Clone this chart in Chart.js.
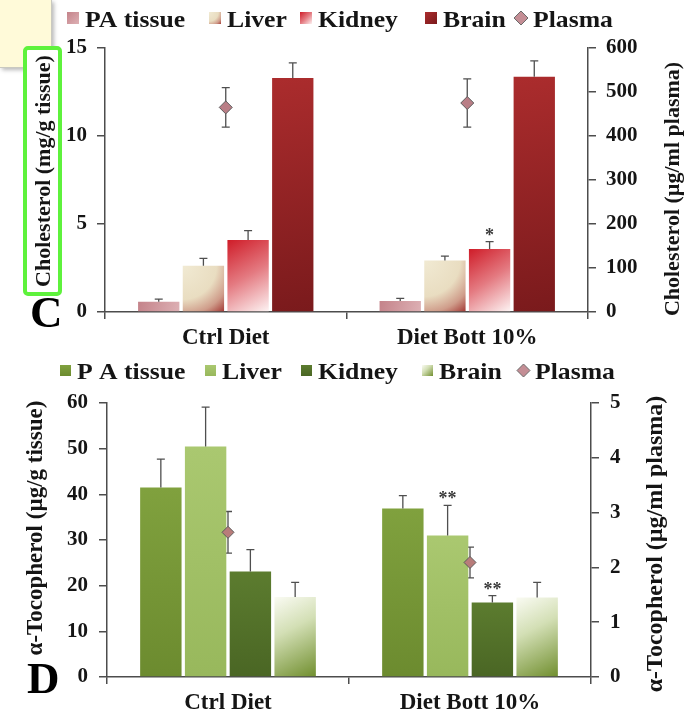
<!DOCTYPE html>
<html>
<head>
<meta charset="utf-8">
<script src="https://cdn.jsdelivr.net/npm/chart.js@4.4.1/dist/chart.umd.min.js"></script>
<style>
  html, body { margin: 0; padding: 0; background: #fff; }
  #page { position: relative; width: 692px; height: 715px; overflow: hidden; background: #fff; }
  canvas { position: absolute; left: 0; z-index: 3; }
  #chartC { top: 0; }
  #chartD { top: 357px; }
  #note {
    position: absolute; left: 0; top: 0; width: 51px; height: 67px; z-index: 1;
    background: #fffad9; border-right: 1px solid #c9c9c0; border-bottom: 1px solid #c9c9c0;
    box-shadow: 2px 2px 4px rgba(0, 0, 0, 0.28);
  }
  #mark {
    position: absolute; left: 23px; top: 46px; width: 31px; height: 242px; z-index: 2;
    background: #fff; border: 4px solid #5ef23c; border-radius: 5px;
  }
</style>
</head>
<body>
<div id="page">
  <div id="note"></div>
  <div id="mark"></div>
  <canvas id="chartC" width="692" height="357"></canvas>
  <canvas id="chartD" width="692" height="358"></canvas>
</div>
<script>
// ---------------- data ----------------
const categories = ['Ctrl Diet', 'Diet Bott 10%'];

// Panel C: cholesterol (tissues in mg/g tissue, plasma in µg/ml plasma)
const cholSeries = ['PA tissue', 'Liver', 'Kidney', 'Brain', 'Plasma'];
const cholPA = [0.58, 0.62];
const cholPAErr = [0.15, 0.15];
const cholLiver = [2.63, 2.92];
const cholLiverErr = [0.42, 0.26];
const cholKidney = [4.09, 3.58];
const cholKidneyErr = [0.53, 0.42];
const cholKidneySig = ['', '*'];
const cholBrain = [13.3, 13.37];
const cholBrainErr = [0.86, 0.9];
const cholPlasma = [465, 475];
const cholPlasmaErr = [45, 55];
const cholTissueTicks = [0, 5, 10, 15];
const cholPlasmaTicks = [0, 100, 200, 300, 400, 500, 600];

// Panel D: α-tocopherol (tissues in µg/g tissue, plasma in µg/ml plasma)
const tocoSeries = ['P A tissue', 'Liver', 'Kidney', 'Brain', 'Plasma'];
const tocoPA = [41.5, 36.9];
const tocoPAErr = [6.2, 2.8];
const tocoLiver = [50.5, 31.0];
const tocoLiverErr = [8.6, 6.6];
const tocoLiverSig = ['', '**'];
const tocoKidney = [23.1, 16.3];
const tocoKidneyErr = [4.8, 1.5];
const tocoKidneySig = ['', '**'];
const tocoBrain = [17.5, 17.4];
const tocoBrainErr = [3.2, 3.3];
const tocoPlasma = [2.64, 2.09];
const tocoPlasmaErr = [0.38, 0.28];
const tocoTissueTicks = [0, 10, 20, 30, 40, 50, 60];
const tocoPlasmaTicks = [0, 1, 2, 3, 4, 5];

// ---------------- styling helpers ----------------
const SERIF = "'Liberation Serif', 'Times New Roman', serif";
const INK = '#151515';
const AXIS = '#4d4d4d';
Chart.defaults.font.family = SERIF;
Chart.defaults.font.weight = 'bold';
Chart.defaults.color = INK;

function linear(ctx, x0, y0, x1, y1, stops) {
  const g = ctx.createLinearGradient(x0, y0, x1, y1);
  stops.forEach(([o, c]) => g.addColorStop(o, c));
  return g;
}
function radial(ctx, cx, cy, r, stops) {
  const g = ctx.createRadialGradient(cx, cy, 0, cx, cy, r);
  stops.forEach(([o, c]) => g.addColorStop(o, c));
  return g;
}

// Fill painters: each receives a box (l, t, r, b) and returns a fill style
const paintC = {
  pa: (ctx, l, t, r, b) => linear(ctx, l, t, r, b, [[0, '#c4838a'], [1, '#ddb0b4']]),
  liver: (ctx, l, t, r, b) => radial(ctx, l, t, Math.hypot(r - l, b - t),
    [[0, '#f1ead3'], [0.55, '#e9ddc1'], [0.8, '#cf9c8a'], [1, '#a43a36']]),
  kidney: (ctx, l, t, r, b) => linear(ctx, l, t, r, b,
    [[0, '#cf1c28'], [0.5, '#e47a81'], [1, '#fdf3f3']]),
  brain: (ctx, l, t, r, b) => linear(ctx, l, t, r, b, [[0, '#ab2c2d'], [1, '#7a1a1c']])
};
const paintD = {
  pa: (ctx, l, t, r, b) => linear(ctx, l, t, l, b, [[0, '#80a13e'], [1, '#6c8b2f']]),
  liver: (ctx, l, t, r, b) => linear(ctx, l, t, l, b, [[0, '#aac870'], [1, '#98b85c']]),
  kidney: (ctx, l, t, r, b) => linear(ctx, l, t, l, b, [[0, '#5c7c2f'], [1, '#4a6624']]),
  brain: (ctx, l, t, r, b) => linear(ctx, l, t, r, b,
    [[0, '#fafbf3'], [0.4, '#d3dfb5'], [1, '#718f2f']])
};

function tissueBar(label, data, errors, paint, marks) {
  return {
    type: 'bar', label, data, errors, paint, marks,
    yAxisID: 'y', order: 1,
    backgroundColor: () => '#999999',
    borderWidth: 0,
    categoryPercentage: 0.74, barPercentage: 0.925
  };
}
function plasmaPoints(label, data, errors, fill, radius) {
  return {
    type: 'line', label, data, errors,
    yAxisID: 'y1', order: 0, showLine: false,
    pointStyle: 'rectRot', pointRadius: radius,
    pointBackgroundColor: fill, pointBorderColor: '#5c5c5c', pointBorderWidth: 1
  };
}

// Gives each bar its own gradient, laid out on the bar's final geometry
const barShading = {
  id: 'barShading',
  beforeDatasetsDraw(chart) {
    const ctx = chart.ctx;
    chart.data.datasets.forEach((ds, i) => {
      if (!ds.paint) return;
      chart.getDatasetMeta(i).data.forEach(bar => {
        const { x, y, base, width } = bar.getProps(['x', 'y', 'base', 'width'], true);
        bar.options.backgroundColor = ds.paint(ctx, x - width / 2, y, x + width / 2, base);
      });
    });
  }
};

// Error bars: one-sided caps above bars, two-sided whiskers behind plasma markers
function drawErrors(chart, kind) {
  const ctx = chart.ctx;
  chart.data.datasets.forEach((ds, i) => {
    if (!ds.errors || ds.type !== kind) return;
    const scale = chart.scales[ds.yAxisID];
    ctx.save();
    ctx.strokeStyle = '#4f4f4f';
    ctx.lineWidth = 1.3;
    chart.getDatasetMeta(i).data.forEach((el, j) => {
      const v = ds.data[j], e = ds.errors[j];
      const x = el.x;
      const top = scale.getPixelForValue(v + e);
      const bottom = scale.getPixelForValue(kind === 'bar' ? v : v - e);
      ctx.beginPath();
      ctx.moveTo(x, bottom); ctx.lineTo(x, top);
      ctx.moveTo(x - 4, top); ctx.lineTo(x + 4, top);
      if (kind === 'line') { ctx.moveTo(x - 4, bottom); ctx.lineTo(x + 4, bottom); }
      ctx.stroke();
      if (ds.marks && ds.marks[j]) {
        ctx.fillStyle = '#3a3a3a';
        ctx.font = 'bold 18px ' + SERIF;
        ctx.textAlign = 'center';
        ctx.textBaseline = 'alphabetic';
        ctx.fillText(ds.marks[j], x, top - 1);
      }
    });
    ctx.restore();
  });
}
const errorBars = {
  id: 'errorBars',
  beforeDatasetsDraw(chart) { drawErrors(chart, 'line'); },
  afterDatasetsDraw(chart) { drawErrors(chart, 'bar'); }
};

// Legend row, rotated axis titles and the panel letter
function makeDecor(cfg) {
  return {
    id: 'panelDecor',
    afterDraw(chart) {
      const ctx = chart.ctx;
      const lg = cfg.legend;
      ctx.save();
      ctx.textBaseline = 'alphabetic';
      ctx.textAlign = 'left';
      lg.items.forEach(item => {
        const s = lg.box;
        const b = lg.baseline - 3, t = b - s, l = item.x - s - 6;
        if (item.diamond) {
          const cx = l + s / 2, cy = t + s / 2, h = s / 2 + 1;
          ctx.beginPath();
          ctx.moveTo(cx, cy - h); ctx.lineTo(cx + h, cy); ctx.lineTo(cx, cy + h); ctx.lineTo(cx - h, cy);
          ctx.closePath();
          ctx.fillStyle = item.fill; ctx.fill();
          ctx.strokeStyle = '#6a6a6a'; ctx.lineWidth = 1; ctx.stroke();
        } else {
          ctx.fillStyle = item.paint(ctx, l, t, l + s, b);
          ctx.fillRect(l, t, s, s);
        }
        // legend lettering is set slightly wide
        ctx.save();
        ctx.translate(item.x, lg.baseline);
        ctx.scale(lg.stretch, 1);
        ctx.font = `bold ${lg.size}px ${SERIF}`;
        ctx.fillStyle = INK;
        ctx.fillText(item.label, 0, 0);
        ctx.restore();
      });
      // axis titles, read bottom-to-top
      cfg.titles.forEach(tt => {
        ctx.save();
        ctx.translate(tt.x, tt.y);
        ctx.rotate(-Math.PI / 2);
        ctx.font = `bold ${tt.size}px ${SERIF}`;
        ctx.textAlign = 'center';
        ctx.textBaseline = 'middle';
        ctx.fillStyle = INK;
        ctx.fillText(tt.text, 0, 0);
        ctx.restore();
      });
      // panel letter
      ctx.font = `bold ${cfg.letter.size}px ${SERIF}`;
      ctx.textAlign = 'left';
      ctx.textBaseline = 'alphabetic';
      ctx.fillStyle = '#000';
      ctx.fillText(cfg.letter.text, cfg.letter.x, cfg.letter.y);
      ctx.restore();
    }
  };
}

function scalesFor(cfg) {
  const tickFont = { size: 21, weight: 'bold' };
  return {
    x: {
      type: 'category', offset: true,
      grid: { drawOnChartArea: false, drawTicks: true, tickLength: 7, color: AXIS, lineWidth: 1.5, offset: true },
      border: { color: AXIS, width: 1.5 },
      ticks: { font: { size: 23, weight: 'bold' }, color: INK, padding: 5, maxRotation: 0, autoSkip: false },
      afterFit: s => { s.height = cfg.xHeight; }
    },
    y: {
      position: 'left',
      min: cfg.leftTicks[0], max: cfg.leftTicks[cfg.leftTicks.length - 1],
      afterBuildTicks: s => { s.ticks = cfg.leftTicks.map(v => ({ value: v })); },
      afterFit: s => { s.width = cfg.leftWidth; },
      grid: { drawOnChartArea: false, tickLength: 8, color: AXIS, lineWidth: 1.5 },
      border: { color: AXIS, width: 1.5 },
      ticks: { font: tickFont, color: INK, padding: cfg.tickPad }
    },
    y1: {
      position: 'right',
      min: cfg.rightTicks[0], max: cfg.rightTicks[cfg.rightTicks.length - 1],
      afterBuildTicks: s => { s.ticks = cfg.rightTicks.map(v => ({ value: v })); },
      afterFit: s => { s.width = cfg.rightWidth; },
      grid: { drawOnChartArea: false, tickLength: 8, color: AXIS, lineWidth: 1.5 },
      border: { color: AXIS, width: 1.5 },
      ticks: { font: tickFont, color: INK, padding: cfg.tickPad }
    }
  };
}

function baseOptions(cfg) {
  return {
    responsive: false,
    animation: false,
    events: [],
    layout: { padding: { top: cfg.top, left: 0, right: 0, bottom: 0 } },
    plugins: { legend: { display: false }, tooltip: { enabled: false } },
    scales: scalesFor(cfg)
  };
}

// ---------------- panel C ----------------
new Chart(document.getElementById('chartC'), {
  type: 'bar',
  data: {
    labels: categories,
    datasets: [
      tissueBar(cholSeries[0], cholPA, cholPAErr, paintC.pa),
      tissueBar(cholSeries[1], cholLiver, cholLiverErr, paintC.liver),
      tissueBar(cholSeries[2], cholKidney, cholKidneyErr, paintC.kidney, cholKidneySig),
      tissueBar(cholSeries[3], cholBrain, cholBrainErr, paintC.brain),
      plasmaPoints(cholSeries[4], cholPlasma, cholPlasmaErr, '#b97e86', 6.5)
    ]
  },
  options: baseOptions({
    top: 48, xHeight: 45, leftWidth: 105, rightWidth: 104, tickPad: 10,
    leftTicks: cholTissueTicks, rightTicks: cholPlasmaTicks
  }),
  plugins: [barShading, errorBars, makeDecor({
    legend: {
      size: 24, stretch: 1.07, box: 12, baseline: 27,
      items: [
        { label: cholSeries[0], x: 85, paint: paintC.pa },
        { label: cholSeries[1], x: 227, paint: paintC.liver },
        { label: cholSeries[2], x: 318, paint: paintC.kidney },
        { label: cholSeries[3], x: 443, paint: paintC.brain },
        { label: cholSeries[4], x: 533, diamond: true, fill: '#c48e95' }
      ]
    },
    titles: [
      { text: 'Cholesterol (mg/g tissue)', x: 44, y: 171, size: 22 },
      { text: 'Cholesterol (µg/ml plasma)', x: 673, y: 189, size: 22 }
    ],
    letter: { text: 'C', x: 30, y: 327, size: 45 }
  })]
});

// ---------------- panel D ----------------
new Chart(document.getElementById('chartD'), {
  type: 'bar',
  data: {
    labels: categories,
    datasets: [
      tissueBar(tocoSeries[0], tocoPA, tocoPAErr, paintD.pa),
      tissueBar(tocoSeries[1], tocoLiver, tocoLiverErr, paintD.liver, tocoLiverSig),
      tissueBar(tocoSeries[2], tocoKidney, tocoKidneyErr, paintD.kidney, tocoKidneySig),
      tissueBar(tocoSeries[3], tocoBrain, tocoBrainErr, paintD.brain),
      plasmaPoints(tocoSeries[4], tocoPlasma, tocoPlasmaErr, '#b87c7a', 6)
    ]
  },
  options: baseOptions({
    top: 46, xHeight: 38, leftWidth: 107, rightWidth: 101, tickPad: 11,
    leftTicks: tocoTissueTicks, rightTicks: tocoPlasmaTicks
  }),
  plugins: [barShading, errorBars, makeDecor({
    legend: {
      size: 24, stretch: 1.07, box: 11, baseline: 22,
      items: [
        { label: tocoSeries[0], x: 77, paint: paintD.pa },
        { label: tocoSeries[1], x: 222, paint: paintD.liver },
        { label: tocoSeries[2], x: 318, paint: paintD.kidney },
        { label: tocoSeries[3], x: 439, paint: paintD.brain },
        { label: tocoSeries[4], x: 535, diamond: true, fill: '#c48e95' }
      ]
    },
    titles: [
      { text: 'α-Tocopherol (µg/g tissue)', x: 36, y: 171, size: 23 },
      { text: 'α-Tocopherol (µg/ml plasma)', x: 656, y: 187, size: 24 }
    ],
    letter: { text: 'D', x: 27, y: 336, size: 45 }
  })]
});
</script>
</body>
</html>
